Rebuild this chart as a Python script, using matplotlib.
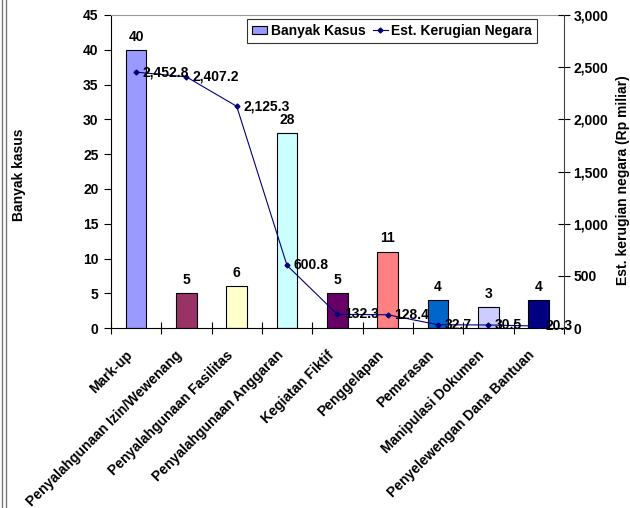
import numpy as np
import matplotlib.pyplot as plt
from matplotlib.lines import Line2D
from matplotlib.ticker import FuncFormatter

plt.rcParams['font.family'] = ['Liberation Sans', 'DejaVu Sans']
plt.rcParams['font.weight'] = 'bold'

kategori = ["Mark-up", "Penyalahgunaan Izin/Wewenang", "Penyalahgunaan Fasilitas",
            "Penyalahgunaan Anggaran", "Kegiatan Fiktif", "Penggelapan",
            "Pemerasan", "Manipulasi Dokumen", "Penyelewengan Dana Bantuan"]
kasus = [40, 5, 6, 28, 5, 11, 4, 3, 4]
kerugian = [2452.8, 2407.2, 2125.3, 600.8, 132.3, 128.4, 32.7, 30.5, 20.3]
warna = ["#9999FF", "#993366", "#FFFFCC", "#CCFFFF", "#660066",
         "#FF8080", "#0066CC", "#CCCCFF", "#000080"]

fs = 10
fig = plt.figure(figsize=(6.3, 5.08), dpi=100)
ax = fig.add_axes([0.176, 0.354, 0.719, 0.6165])
x = np.arange(len(kategori))

bars = ax.bar(x, kasus, 0.41, color=warna, edgecolor="black", linewidth=0.8,
              label="Banyak Kasus", zorder=2)
for xi, v in zip(x, kasus):
    ax.text(xi, v + 0.9, str(v), ha="center", va="bottom", fontsize=fs, fontweight="bold")

ax.set_xlim(-0.5, len(kategori) - 0.5)
ax.set_ylim(0, 45)
ax.set_yticks(range(0, 46, 5))
ax.set_xticks(np.arange(-0.5, len(kategori), 1))
ax.set_xticklabels([])
# slanted category names under each bar
for xi, nama in zip(x, kategori):
    ax.annotate(nama, xy=(xi, 0), xycoords=ax.get_xaxis_transform(),
                xytext=(-11, -20), textcoords="offset pixels",
                rotation=45, rotation_mode="anchor", ha="right", va="top",
                fontsize=fs, fontweight="bold", annotation_clip=False)
ax.tick_params(axis="x", which="major", direction="inout", length=8, width=0.8)
ax.tick_params(axis="y", direction="out", length=5, width=0.8, labelsize=fs, pad=4)
for lbl in ax.get_yticklabels():
    lbl.set_fontweight("bold")
ax.set_ylabel("Banyak kasus", fontsize=fs, fontweight="bold")
ax.yaxis.set_label_coords(-0.187, 0.489)
ax.spines["top"].set_color("#999999")
ax.spines["top"].set_linewidth(0.8)
ax.spines["right"].set_visible(False)

ax2 = ax.twinx()
line, = ax2.plot(x, kerugian, color="#000080", marker="D", markersize=2.5,
                 linewidth=0.8, label="Est. Kerugian Negara", zorder=3)
for xi, v in zip(x, kerugian):
    ax2.text(xi + 0.13, v, f"{v:,.1f}", ha="left", va="center",
             fontsize=fs, fontweight="bold")
ax2.set_ylim(0, 3000)
ax2.set_yticks(range(0, 3001, 500))
ax2.yaxis.set_major_formatter(FuncFormatter(lambda v, p: f"{int(v):,}"))
ax2.tick_params(axis="y", direction="inout", length=8, width=0.8, labelsize=fs, pad=3)
for lbl in ax2.get_yticklabels():
    lbl.set_fontweight("bold")
ax2.set_ylabel("Est. kerugian negara (Rp miliar)", fontsize=fs, fontweight="bold")
ax2.yaxis.set_label_coords(1.116, 0.473)
for s in ["top", "left", "bottom"]:
    ax2.spines[s].set_visible(False)
ax2.spines["right"].set_linewidth(0.8)
ax2.spines["right"].set_color("#444444")

leg = ax2.legend([bars, line], ["Banyak Kasus", "Est. Kerugian Negara"], ncol=2,
                 loc="upper right", bbox_to_anchor=(0.9405, 0.987), fontsize=fs,
                 frameon=True, fancybox=False, edgecolor="black",
                 handlelength=1.1, handletextpad=0.25, columnspacing=0.5,
                 borderpad=0.35, borderaxespad=0, handleheight=0.6)
leg.get_frame().set_linewidth(0.8)
for t in leg.get_texts():
    t.set_fontweight("bold")

# double border on the left edge
for xf in (1.5 / 630, 5.5 / 630):
    fig.add_artist(Line2D([xf, xf], [0, 1], transform=fig.transFigure,
                          color="#777777", linewidth=1.0))

fig.savefig("out.png", dpi=100)
